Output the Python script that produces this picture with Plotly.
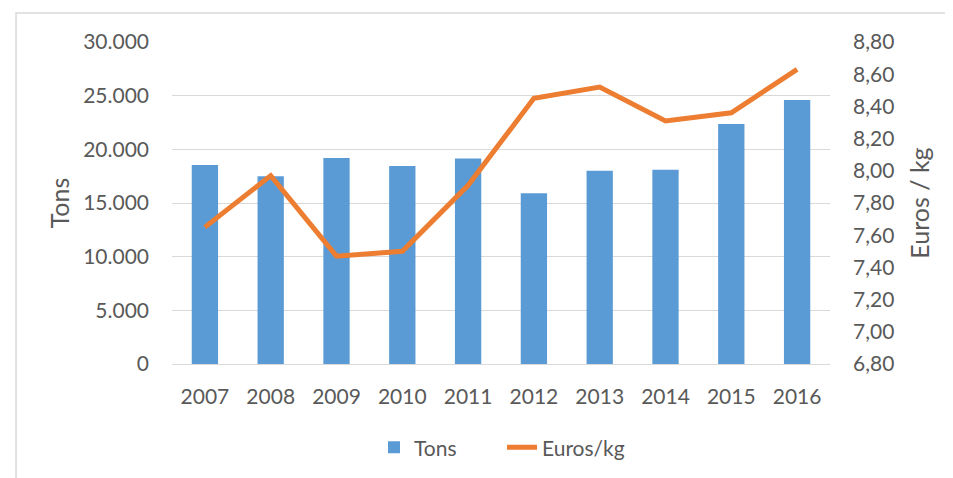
import plotly.graph_objs as go
from plotly.subplots import make_subplots

years = ['2007', '2008', '2009', '2010', '2011', '2012', '2013', '2014', '2015', '2016']
tons = [18550, 17500, 19200, 18450, 19150, 15900, 18000, 18100, 22350, 24600]
euros_kg = [7.65, 7.97, 7.47, 7.50, 7.91, 8.45, 8.52, 8.31, 8.36, 8.63]

font_family = 'Lato, Calibri, sans-serif'
txt_color = '#595959'
grid_color = '#D9D9D9'

fig = make_subplots(specs=[[{"secondary_y": True}]])

fig.add_trace(go.Bar(x=years, y=tons, name='Tons',
    marker_color='#5B9BD5', marker_line_width=0), secondary_y=False)

fig.add_trace(go.Scatter(x=years, y=euros_kg, name='Euros/kg', mode='lines',
    line=dict(color='#ED7D31', width=5)), secondary_y=True)

# page body has an 8px margin, so the figure is 8px smaller and shifted
fig.update_layout(
    width=945,
    height=470,
    separators=',.',
    bargap=0.6,
    plot_bgcolor='white',
    paper_bgcolor='white',
    font=dict(family=font_family, size=21, color=txt_color),
    margin=dict(autoexpand=False, l=164, r=123, t=34, b=114),
    showlegend=True,
    legend=dict(
        orientation='h',
        xanchor='left',
        x=0.307,
        yanchor='middle',
        y=-0.26,
        font=dict(size=21, color=txt_color),
        entrywidth=83,
    ),
)

# make_subplots shrinks the x domain for the secondary axis, undo that
fig.update_xaxes(domain=[0, 1], showgrid=False, showline=False, zeroline=False,
    automargin=False, ticks='outside', ticklen=14, tickcolor='rgba(0,0,0,0)')

fig.update_yaxes(range=[0, 30000], dtick=5000, tickformat=',d',
    showgrid=True, gridcolor=grid_color, gridwidth=1,
    zeroline=True, zerolinecolor=grid_color, zerolinewidth=1,
    showline=False, ticklabelstandoff=22, automargin=False,
    title=dict(text='Tons', standoff=6),
    secondary_y=False)

fig.update_yaxes(range=[6.8, 8.8], dtick=0.2, tickformat='.2f',
    showgrid=False, zeroline=False, showline=False, ticklabelstandoff=22,
    automargin=False,
    title=dict(text='Euros / kg', standoff=18),
    secondary_y=True)

# light grey chart frame (runs off the right/bottom of the picture)
fig.add_shape(type='rect', xref='paper', yref='paper',
    x0=-0.237, x1=1.25, y0=-0.42, y1=1.09,
    line=dict(color=grid_color, width=1.5), fillcolor='rgba(0,0,0,0)', layer='below')

fig.write_html("out.html")
